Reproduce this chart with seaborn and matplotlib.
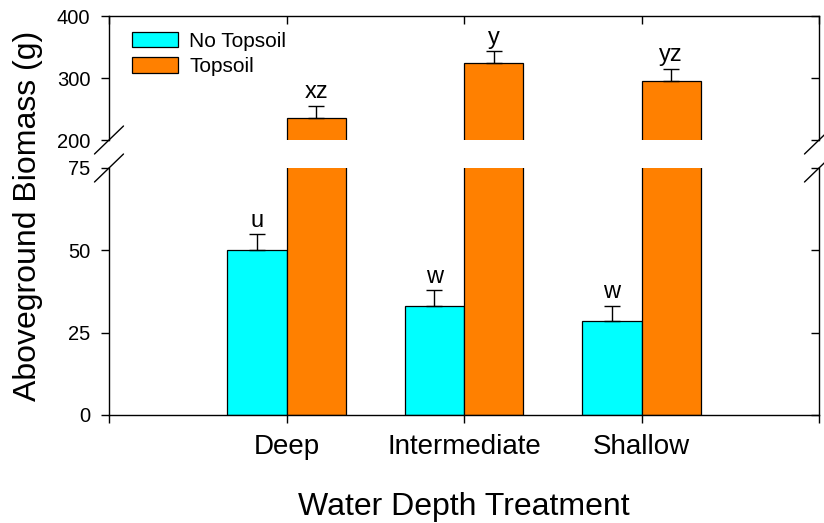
import matplotlib
matplotlib.use("Agg")
import matplotlib.pyplot as plt
import seaborn as sns
import pandas as pd

# ---- data ----
categories = ["Deep", "Intermediate", "Shallow"]
groups = ["No Topsoil", "Topsoil"]
no_topsoil = [50.1, 33.1, 28.5]
no_topsoil_se = [4.8, 4.8, 4.6]
topsoil = [236.2, 324.5, 295.9]
topsoil_se = [18.7, 18.7, 19.4]
no_topsoil_letters = ["u", "w", "w"]
topsoil_letters = ["xz", "y", "yz"]
upper_ticks = [200, 300, 400]
lower_ticks = [0, 25, 50, 75]

df = pd.DataFrame({
    "Treatment": categories * 2,
    "Group": [groups[0]] * 3 + [groups[1]] * 3,
    "Biomass": no_topsoil + topsoil,
    "SE": no_topsoil_se + topsoil_se,
    "Letter": no_topsoil_letters + topsoil_letters,
})

sns.set_theme(style="ticks")
plt.rcParams["font.family"] = ["Liberation Sans", "DejaVu Sans"]
plt.rcParams.update({
    "axes.linewidth": 1.0,
    "axes.edgecolor": "black",
    "text.color": "black",
    "axes.labelcolor": "black",
    "xtick.color": "black",
    "ytick.color": "black",
})

palette = {"No Topsoil": "#00FFFF", "Topsoil": "#FF8000"}

fig = plt.figure(figsize=(8.24, 5.23), dpi=100)
L, R = 109 / 824, 819 / 824
ax_low = fig.add_axes([L, 1 - 415 / 523, R - L, (415 - 168) / 523])
ax_up = fig.add_axes([L, 1 - 140 / 523, R - L, (140 - 16) / 523])

for ax in (ax_low, ax_up):
    sns.barplot(data=df, x="Treatment", y="Biomass", hue="Group",
                order=categories, hue_order=groups, palette=palette,
                width=2 / 3, saturation=1, errorbar=None,
                edgecolor="black", linewidth=0.9, ax=ax)
    for cont, g in zip(ax.containers, groups):
        sub = df[df.Group == g].set_index("Treatment").loc[categories]
        xs = [b.get_x() + b.get_width() / 2 for b in cont]
        ax.errorbar(xs, sub.Biomass.values,
                    yerr=[[0] * len(xs), sub.SE.values],
                    fmt="none", ecolor="black", elinewidth=1.0,
                    capsize=5.8, capthick=1.0)
    ax.set_xlim(-1, 3)

ax_low.set_ylim(0, 75)
ax_up.set_ylim(200, 400)

# letters
for cont, g in zip(ax_low.containers, groups):
    sub = df[df.Group == g].set_index("Treatment").loc[categories]
    for b, v, se, lt in zip(cont, sub.Biomass, sub.SE, sub.Letter):
        x = b.get_x() + b.get_width() / 2
        top = v + se
        target = ax_low if top < 75 else ax_up
        target.annotate(lt, (x, top), xytext=(0, 5.5), textcoords="offset points",
                        ha="center", va="baseline", fontsize=17, color="black")

# legend
handles, labels = ax_up.get_legend_handles_labels()
ax_low.get_legend().remove()
ax_up.legend(handles, labels, loc="upper left", bbox_to_anchor=(0.0145, 0.972),
             frameon=False, fontsize=15, handlelength=2.2, handleheight=0.75,
             handletextpad=0.55, labelspacing=0.3, borderaxespad=0.2)

# spines and ticks
ax_up.spines["bottom"].set_visible(False)
ax_low.spines["top"].set_visible(False)
for ax in (ax_low, ax_up):
    ax.spines["right"].set_visible(True)
    ax.set_xlabel("")
    ax.set_ylabel("")
    ax.tick_params(axis="y", left=True, right=False, direction="out", length=6,
                   width=1, labelsize=14.5, pad=7.5, colors="black")

ax_low.set_yticks(lower_ticks)
ax_up.set_yticks(upper_ticks)

# inward ticks on the right spine
for ax, ticks in ((ax_low, lower_ticks), (ax_up, upper_ticks)):
    ax2 = ax.twinx()
    ax2.set_ylim(ax.get_ylim())
    ax2.set_yticks(ticks)
    ax2.tick_params(axis="y", direction="in", length=6, width=1, labelright=False)
    for s in ax2.spines.values():
        s.set_visible(False)

ax_low.set_xticks([-1, 0, 1, 2, 3], ["", "Deep", "Intermediate", "Shallow", ""])
ax_low.tick_params(axis="x", bottom=True, top=False, direction="out", length=5.5,
                   width=1, labelsize=20, pad=8)
ax_up.set_xticks([-1, 0, 1, 2, 3])
ax_up.tick_params(axis="x", bottom=False, top=True, direction="in", length=6,
                  width=1, labelbottom=False, labeltop=False)

ax_low.set_xlabel("Water Depth Treatment", fontsize=23, labelpad=23)
fig.text(28 / 824, 1 - 215.5 / 523, "Aboveground Biomass (g)", rotation=90,
         ha="center", va="center", fontsize=23)

# axis break marks
dx = 14.5 / 710
dyu = 14 / 124
dyl = 14 / 247
for xc in (0, 1):
    ax_up.plot([xc - dx, xc + dx], [-dyu, dyu], transform=ax_up.transAxes,
               color="black", lw=1.0, clip_on=False)
    ax_low.plot([xc - dx, xc + dx], [1 - dyl, 1 + dyl], transform=ax_low.transAxes,
                color="black", lw=1.0, clip_on=False)

fig.savefig("out.png", dpi=100)
